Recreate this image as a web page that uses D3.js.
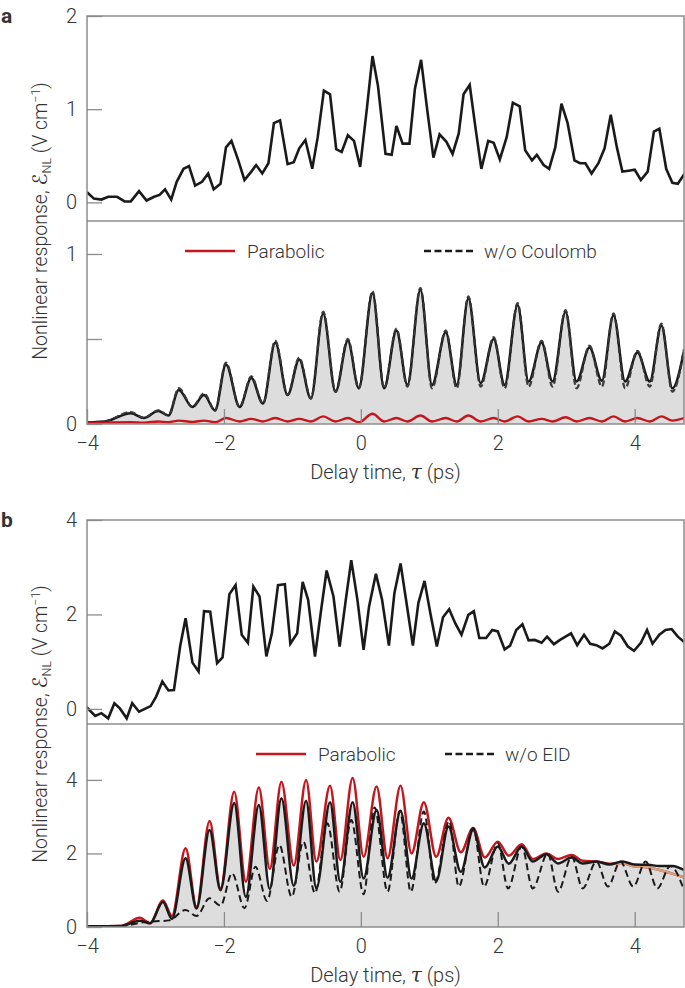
<!DOCTYPE html>
<html><head><meta charset="utf-8">
<script src="https://cdn.jsdelivr.net/npm/d3@7"></script>
<style>
body{margin:0;background:#fff}
svg{display:block}
text{font-family:Roboto,"Open Sans","DejaVu Sans",sans-serif;fill:#333}
</style>
</head><body>
<svg id="chart" width="685" height="988"></svg>
<script>
// ---------- DATA ----------
// Panel a, top: experiment
const tauA1 = [-4.0,-3.90,-3.79,-3.69,-3.56,-3.45,-3.36,-3.24,-3.13,-3.02,-2.94,-2.86,-2.77,-2.69,-2.59,-2.51,-2.42,-2.32,-2.23,-2.15,-2.05,-1.97,-1.89,-1.79,-1.70,-1.60,-1.53,-1.44,-1.35,-1.27,-1.18,-1.07,-0.98,-0.90,-0.81,-0.71,-0.63,-0.54,-0.45,-0.36,-0.28,-0.19,-0.10,-0.01,0.09,0.17,0.25,0.36,0.45,0.52,0.61,0.71,0.79,0.88,0.97,1.06,1.15,1.25,1.34,1.43,1.50,1.59,1.68,1.76,1.86,1.94,2.03,2.13,2.22,2.32,2.40,2.50,2.57,2.67,2.75,2.84,2.93,3.02,3.12,3.20,3.28,3.37,3.47,3.56,3.65,3.74,3.82,3.91,4.00,4.09,4.19,4.28,4.36,4.46,4.55,4.63,4.73];
const respA1 = [0.11,0.04,0.03,0.06,0.06,0.01,0.01,0.12,0.02,0.06,0.08,0.14,0.03,0.22,0.36,0.39,0.18,0.22,0.31,0.14,0.20,0.59,0.66,0.45,0.24,0.33,0.40,0.31,0.42,0.85,0.88,0.41,0.43,0.58,0.67,0.36,0.70,1.20,1.16,0.57,0.54,0.72,0.66,0.38,1.02,1.57,1.25,0.52,0.51,0.82,0.63,0.63,1.22,1.53,0.99,0.48,0.73,0.65,0.52,0.74,1.16,1.26,0.77,0.36,0.66,0.64,0.46,0.70,1.07,1.03,0.56,0.45,0.51,0.40,0.36,0.59,1.06,0.85,0.45,0.42,0.42,0.31,0.42,0.58,0.94,0.59,0.33,0.34,0.35,0.24,0.33,0.76,0.79,0.36,0.21,0.20,0.31];

// Panel a, bottom: theory
const tauA2 = [-4.0,-3.74,-3.36,-3.17,-2.96,-2.81,-2.66,-2.46,-2.29,-2.13,-1.97,-1.77,-1.60,-1.43,-1.25,-1.07,-0.90,-0.73,-0.55,-0.37,-0.19,-0.03,0.17,0.34,0.52,0.68,0.87,1.04,1.24,1.40,1.57,1.75,1.94,2.10,2.29,2.45,2.64,2.80,2.99,3.15,3.34,3.52,3.69,3.86,4.04,4.22,4.39,4.55,4.72];
const fullA2 = [0.01,0.015,0.063,0.035,0.076,0.05,0.20,0.10,0.17,0.08,0.35,0.10,0.27,0.12,0.48,0.17,0.38,0.15,0.65,0.19,0.49,0.21,0.77,0.21,0.55,0.23,0.79,0.23,0.54,0.23,0.74,0.24,0.50,0.23,0.70,0.25,0.48,0.25,0.66,0.25,0.45,0.255,0.64,0.25,0.42,0.25,0.58,0.21,0.43];
const noCoulombA2 = [0.01,0.015,0.07,0.035,0.08,0.05,0.21,0.10,0.18,0.08,0.36,0.10,0.28,0.12,0.49,0.17,0.39,0.15,0.66,0.19,0.50,0.21,0.78,0.21,0.56,0.22,0.80,0.21,0.55,0.21,0.75,0.22,0.51,0.21,0.71,0.22,0.49,0.22,0.67,0.21,0.46,0.22,0.65,0.21,0.43,0.22,0.59,0.19,0.44];
const parabolicA2 = [0.005,0.008,0.01,0.008,0.015,0.01,0.02,0.012,0.02,0.01,0.035,0.015,0.03,0.015,0.035,0.015,0.03,0.015,0.045,0.015,0.035,0.01,0.06,0.015,0.035,0.015,0.05,0.015,0.035,0.015,0.05,0.015,0.035,0.015,0.045,0.015,0.03,0.015,0.04,0.015,0.035,0.015,0.045,0.015,0.035,0.015,0.045,0.02,0.035];

// Panel b, top: experiment
const tauB1 = [-4.01,-3.88,-3.79,-3.69,-3.60,-3.52,-3.42,-3.34,-3.24,-3.17,-3.07,-2.99,-2.90,-2.81,-2.73,-2.64,-2.56,-2.46,-2.37,-2.29,-2.20,-2.10,-2.02,-1.92,-1.83,-1.74,-1.65,-1.57,-1.48,-1.38,-1.30,-1.21,-1.11,-1.03,-0.93,-0.85,-0.77,-0.67,-0.58,-0.50,-0.40,-0.31,-0.22,-0.14,-0.05,0.04,0.12,0.22,0.31,0.41,0.49,0.58,0.66,0.76,0.84,0.93,1.02,1.11,1.20,1.29,1.38,1.47,1.57,1.65,1.73,1.83,1.92,2.00,2.10,2.18,2.27,2.36,2.45,2.54,2.64,2.72,2.82,2.91,2.99,3.07,3.16,3.26,3.35,3.44,3.53,3.63,3.71,3.80,3.90,3.99,4.09,4.18,4.26,4.36,4.45,4.54,4.63,4.72];
const respB1 = [0.04,-0.15,-0.09,-0.20,0.12,0.01,-0.20,0.12,-0.06,-0.01,0.06,0.26,0.58,0.39,0.40,1.32,1.92,0.98,0.79,2.07,2.06,0.97,1.09,2.43,2.62,1.57,1.40,2.59,2.38,1.11,1.60,2.62,2.64,1.38,1.60,2.69,2.31,1.11,2.10,2.93,2.38,1.32,2.31,3.15,2.31,1.25,2.17,2.86,2.31,1.34,2.45,3.08,2.31,1.34,2.24,2.71,1.99,1.32,1.94,2.11,1.81,1.57,1.99,2.07,1.50,1.50,1.67,1.64,1.26,1.34,1.67,1.79,1.45,1.46,1.40,1.53,1.37,1.46,1.53,1.60,1.35,1.57,1.38,1.35,1.28,1.38,1.64,1.55,1.32,1.23,1.40,1.67,1.38,1.57,1.67,1.69,1.53,1.42];

// Panel b, bottom: theory
const tauB2 = [-4.0,-3.5,-3.23,-3.08,-2.89,-2.76,-2.56,-2.40,-2.21,-2.05,-1.85,-1.68,-1.49,-1.33,-1.16,-0.98,-0.80,-0.65,-0.45,-0.30,-0.12,0.04,0.23,0.39,0.58,0.74,0.92,1.10,1.28,1.46,1.64,1.81,2.0,2.16,2.35,2.51,2.71,2.88,3.08,3.24,3.44,3.63,3.82,3.99,4.20,4.36,4.55,4.72];
const fullB2 = [0.02,0.03,0.17,0.10,0.68,0.22,1.87,0.50,2.64,1.00,3.37,0.82,3.32,1.03,3.50,1.12,3.43,1.05,3.39,1.23,3.39,1.32,3.18,1.34,3.16,1.32,2.82,1.25,2.73,1.50,2.64,1.62,2.19,1.72,2.19,1.78,1.98,1.73,1.89,1.73,1.78,1.70,1.78,1.70,1.69,1.66,1.66,1.55];
const parabolicB2 = [0.02,0.03,0.25,0.10,0.72,0.30,2.14,0.55,2.88,1.05,3.68,1.23,3.79,1.58,3.95,1.67,4.00,1.78,3.84,1.82,4.05,1.91,3.82,1.87,3.84,2.00,3.39,1.91,2.97,2.03,2.69,1.89,2.32,1.94,2.25,1.85,2.00,1.85,1.96,1.80,1.78,1.72,1.74,1.65,1.62,1.55,1.45,1.35];
const tauB2noEID = [-4.0,-3.5,-3.2,-3.04,-2.8,-2.56,-2.40,-2.21,-2.05,-1.88,-1.70,-1.54,-1.37,-1.19,-1.01,-0.84,-0.67,-0.49,-0.31,-0.14,0.04,0.20,0.39,0.57,0.73,0.92,1.08,1.29,1.43,1.64,1.80,2.0,2.15,2.35,2.51,2.73,2.88,3.08,3.24,3.44,3.61,3.79,3.98,4.16,4.33,4.52,4.72];
const noEIDB2 = [0.0,0.02,0.12,0.15,0.18,0.46,0.30,0.78,0.58,1.46,0.51,1.64,0.71,2.23,0.82,2.32,0.92,2.82,0.96,2.91,0.89,3.25,0.96,3.16,0.96,3.14,1.19,2.88,1.10,2.69,1.10,2.28,1.05,2.19,1.05,2.0,0.96,1.91,1.05,1.78,1.10,1.78,1.10,1.78,1.05,1.66,1.01];

const xTicks = [-4,-2,0,2,4];
const yTicksA1 = [0,1,2], yTicksA2 = [0,0.5,1], yLabelsA2 = [0,1];
const yTicksB1 = [0,2,4], yTicksB2 = [0,2,4];

// ---------- LAYOUT ----------
const L = 87, R = 684;
const FRAME = "#8c8c8c", BLACK = "#1a1a1a", RED = "#c4161c", TAN = "#d9a07c", FILL = "#dddddd";
const svg = d3.select("#chart");
const defs = svg.append("defs");
const x = d3.scaleLinear().domain([-4, 4.72]).range([L, R]);
const zip = (a, b) => a.map((v, i) => [v, b[i]]);

function clip(id, y0, y1) {
  defs.append("clipPath").attr("id", id).append("rect")
    .attr("x", L).attr("y", y0).attr("width", R - L).attr("height", y1 - y0);
  return `url(#${id})`;
}

function yAxis(scale, ticks, labels) {
  const ax = d3.axisLeft(scale).tickValues(ticks).tickSize(-15).tickPadding(10)
    .tickFormat(d => labels.includes(d) ? d3.format("d")(d) : "");
  const g = svg.append("g").attr("transform", `translate(${L},0)`).call(ax);
  g.select(".domain").remove();
  g.selectAll(".tick line").attr("stroke", FRAME).attr("stroke-width", 1.3);
  g.selectAll(".tick text").style("font-size", "20px").style("font-weight", 300).attr("fill", "#333");
}

function xAxis(yPix) {
  const ax = d3.axisBottom(x).tickValues(xTicks).tickSize(-15).tickPadding(12).tickFormat(d3.format("d"));
  const g = svg.append("g").attr("transform", `translate(0,${yPix})`).call(ax);
  g.select(".domain").remove();
  g.selectAll(".tick line").attr("stroke", FRAME).attr("stroke-width", 1.3);
  g.selectAll(".tick text").style("font-size", "20px").style("font-weight", 300).attr("fill", "#333");
}

function frame(top, sep, bot) {
  svg.append("rect").attr("x", L).attr("y", top).attr("width", R - L).attr("height", bot - top)
    .attr("fill", "none").attr("stroke", FRAME).attr("stroke-width", 1.5);
  svg.append("line").attr("x1", L).attr("x2", R).attr("y1", sep).attr("y2", sep)
    .attr("stroke", FRAME).attr("stroke-width", 1.5);
}

function yTitle(cy) {
  const t = svg.append("text").attr("transform", `translate(40,${cy}) rotate(-90)`)
    .attr("text-anchor", "middle").style("font-size", "19.5px").style("font-weight", 300).attr("dy", "0.35em");
  t.append("tspan").text("Nonlinear response, ");
  t.append("tspan").text("ℰ").style("font-style", "italic").style("font-size", "20px");
  t.append("tspan").text("NL").attr("dy", 4).style("font-size", "12.5px");
  t.append("tspan").text(" (V cm").attr("dy", -4);
  t.append("tspan").text("−1").attr("dy", -7).style("font-size", "12.5px");
  t.append("tspan").text(")").attr("dy", 7);
}

function xTitle(cy) {
  const t = svg.append("text").attr("x", (L + R) / 2).attr("y", cy).attr("dy", "0.35em")
    .attr("text-anchor", "middle").style("font-size", "20px").style("font-weight", 300);
  t.append("tspan").text("Delay time, ");
  t.append("tspan").text("τ").style("font-style", "italic").style("font-family", "'DejaVu Serif',serif");
  t.append("tspan").text(" (ps)");
}

function legend(y, x1, label1, x2, label2) {
  svg.append("line").attr("x1", x1).attr("x2", x1 + 50).attr("y1", y).attr("y2", y)
    .attr("stroke", RED).attr("stroke-width", 2.5);
  svg.append("text").attr("x", x1 + 62).attr("y", y).attr("dy", "0.35em").text(label1)
    .style("font-size", "19px").style("font-weight", 300);
  svg.append("line").attr("x1", x2).attr("x2", x2 + 50).attr("y1", y).attr("y2", y)
    .attr("stroke", BLACK).attr("stroke-width", 2.5).attr("stroke-dasharray", "7,3.5");
  svg.append("text").attr("x", x2 + 60).attr("y", y).attr("dy", "0.35em").text(label2)
    .style("font-size", "19px").style("font-weight", 300);
}

function panelLetter(t, y) {
  svg.append("text").attr("x", 1).attr("y", y).attr("dy", "0.35em").text(t)
    .style("font-size", "21px").style("font-weight", 700).attr("fill", "#111");
}

// ---------- PANEL a ----------
{
  const top = 16, sep = 221, bot = 424;
  const y1 = d3.scaleLinear().domain([-0.2, 2]).range([sep, top]);
  const y2 = d3.scaleLinear().domain([0, 1.194]).range([bot, sep]);
  const c1 = clip("ca1", top, sep), c2 = clip("ca2", sep, bot);

  const jag = d3.line().x(d => x(d[0])).y(d => y1(d[1]));
  svg.append("path").attr("clip-path", c1).attr("d", jag(zip(tauA1, respA1)))
    .attr("fill", "none").attr("stroke", BLACK).attr("stroke-width", 2.6);

  const sm = d3.line().x(d => x(d[0])).y(d => y2(d[1])).curve(d3.curveMonotoneX);
  const ar = d3.area().x(d => x(d[0])).y0(y2(0)).y1(d => y2(d[1])).curve(d3.curveMonotoneX);
  const g2 = svg.append("g").attr("clip-path", c2);
  g2.append("path").attr("d", ar(zip(tauA2, fullA2))).attr("fill", FILL);
  g2.append("path").attr("d", sm(zip(tauA2, noCoulombA2))).attr("fill", "none")
    .attr("stroke", "#666").attr("stroke-width", 2.4).attr("stroke-dasharray", "6,3");
  g2.append("path").attr("d", sm(zip(tauA2, fullA2))).attr("fill", "none")
    .attr("stroke", BLACK).attr("stroke-width", 2.5);
  g2.append("path").attr("d", sm(zip(tauA2, noCoulombA2))).attr("fill", "none")
    .attr("stroke", "#3a3a3a").attr("stroke-width", 1.6).attr("stroke-dasharray", "6,3");
  g2.append("path").attr("d", sm(zip(tauA2, parabolicA2))).attr("fill", "none")
    .attr("stroke", RED).attr("stroke-width", 2.4);

  frame(top, sep, bot);
  yAxis(y1, yTicksA1, yTicksA1);
  yAxis(y2, yTicksA2, yLabelsA2);
  xAxis(bot);
  xTitle(472);
  yTitle(sep);
  legend(251, 185, "Parabolic", 424, "w/o Coulomb");
  panelLetter("a", 16);
}

// ---------- PANEL b ----------
{
  const top = 520, sep = 724, bot = 927;
  const y1 = d3.scaleLinear().domain([-0.32, 4]).range([sep, top]);
  const y2 = d3.scaleLinear().domain([0, 5.52]).range([bot, sep]);
  const c1 = clip("cb1", top, sep), c2 = clip("cb2", sep, bot);

  const jag = d3.line().x(d => x(d[0])).y(d => y1(d[1]));
  svg.append("path").attr("clip-path", c1).attr("d", jag(zip(tauB1, respB1)))
    .attr("fill", "none").attr("stroke", BLACK).attr("stroke-width", 2.6);

  const sm = d3.line().x(d => x(d[0])).y(d => y2(d[1])).curve(d3.curveMonotoneX);
  const ar = d3.area().x(d => x(d[0])).y0(y2(0)).y1(d => y2(d[1])).curve(d3.curveMonotoneX);
  const fullPts = zip(tauB2, fullB2);
  defs.append("clipPath").attr("id", "underB").append("path").attr("d", ar(fullPts));

  const g2 = svg.append("g").attr("clip-path", c2);
  g2.append("path").attr("d", ar(fullPts)).attr("fill", FILL);
  g2.append("path").attr("d", sm(zip(tauB2, parabolicB2))).attr("fill", "none")
    .attr("stroke", RED).attr("stroke-width", 2.5);
  g2.append("g").attr("clip-path", "url(#underB)")
    .append("path").attr("d", sm(zip(tauB2, parabolicB2))).attr("fill", "none")
    .attr("stroke", TAN).attr("stroke-width", 2.5);
  g2.append("path").attr("d", sm(zip(tauB2noEID, noEIDB2))).attr("fill", "none")
    .attr("stroke", BLACK).attr("stroke-width", 2).attr("stroke-dasharray", "7,4");
  g2.append("path").attr("d", sm(fullPts)).attr("fill", "none")
    .attr("stroke", BLACK).attr("stroke-width", 2.5);

  frame(top, sep, bot);
  yAxis(y1, yTicksB1, yTicksB1);
  yAxis(y2, yTicksB2, yTicksB2);
  xAxis(bot);
  xTitle(975);
  yTitle(sep);
  legend(754, 256, "Parabolic", 445, "w/o EID");
  panelLetter("b", 520);
}
</script>
</body></html>
